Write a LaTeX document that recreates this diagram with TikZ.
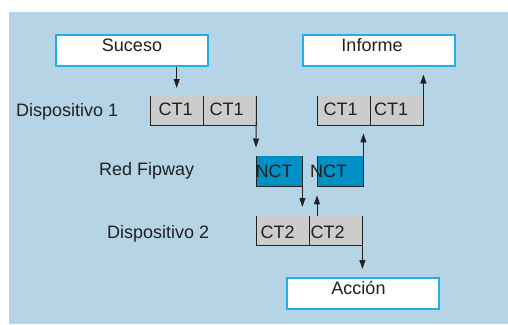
\documentclass[tikz,border=0pt]{standalone}
\usepackage{fontspec}
\setmainfont{Liberation Sans}
\usetikzlibrary{arrows.meta}
\definecolor{bgblue}{HTML}{B5D4E5}
\definecolor{cyanb}{HTML}{22AEE8}
\definecolor{ctgray}{HTML}{CCCCCC}
\definecolor{nctblue}{HTML}{0090C6}
\definecolor{txt}{HTML}{231F20}
\definecolor{lin}{HTML}{222222}
\tikzset{
  lbl/.style={font=\fontsize{18}{20}\selectfont, text=txt, inner sep=0pt, anchor=base west},
  endbox/.style={draw=cyanb, line width=1.5pt, fill=white, minimum width=152pt, minimum height=31pt, inner sep=0pt, anchor=north west},
  ctcell/.style={fill=ctgray, minimum width=53pt, minimum height=29pt, inner sep=0pt, anchor=north west},
  nctcell/.style={fill=nctblue, minimum width=46pt, minimum height=30pt, inner sep=0pt, anchor=north west},
  border/.style={draw=lin, line width=0.9pt},
  arr/.style={draw=lin, line width=0.9pt, -{Triangle[length=9pt,width=6pt]}}
}
\begin{document}
\begin{tikzpicture}[x=1pt,y=-1pt]
\useasboundingbox (0,0) rectangle (508,324);
\fill[bgblue] (9,12) rectangle (508,324);
% end boxes
\node[endbox] (suc) at (55,34) {};
\node[endbox] (inf) at (302,34) {};
\node[endbox] (acc) at (286,277) {};
\node[lbl, anchor=base] (tsuc) at (132,51) {Suceso};
\node[lbl, anchor=base] (tinf) at (372,51) {Informe};
\node[lbl, anchor=base] (tacc) at (358.5,294.5) {Acción};
% side labels
\node[lbl] (d1) at (16,116.5) {Dispositivo 1};
\node[lbl] (rf) at (99,175) {Red Fipway};
\node[lbl] (d2) at (107,238.5) {Dispositivo 2};
% CT1 cells (device 1, left)
\node[ctcell] (ct1a) at (150,96) {};
\node[ctcell] (ct1b) at (203,96) {};
% CT1 cells (device 1, right)
\node[ctcell] (ct1c) at (317,96) {};
\node[ctcell] (ct1d) at (370,96) {};
% NCT cells
\node[nctcell] (nct1) at (256,156) {};
\node[nctcell] (nct2) at (317,156) {};
% CT2 cells
\node[ctcell] (ct2a) at (256,216) {};
\node[ctcell] (ct2b) at (309,216) {};
% cell borders (open at top)
\draw[border] (ct1a.north west) -- (ct1a.south west) -- (ct1b.south east) -- (ct1b.north east);
\draw[border] (ct1a.north east) -- (ct1a.south east);
\draw[border] (ct1c.north west) -- (ct1c.south west) -- (ct1d.south east) -- (ct1d.north east);
\draw[border] (ct1c.north east) -- (ct1c.south east);
\draw[border] (nct1.north west) -- (nct1.south west) -- (nct1.south east) -- (nct1.north east);
\draw[border] (nct2.north west) -- (nct2.south west) -- (nct2.south east) -- (nct2.north east);
\draw[border] (ct2a.north west) -- (ct2a.south west) -- (ct2b.south east) -- (ct2b.north east);
\draw[border] (ct2a.north east) -- (ct2a.south east);
% cell texts
\node[lbl] (tct1a) at (158.5,115) {CT1};
\node[lbl] (tct1b) at (209.5,115) {CT1};
\node[lbl] (tct1c) at (323.5,115) {CT1};
\node[lbl] (tct1d) at (374,115) {CT1};
\node[lbl] (tnct1) at (255.5,177) {NCT};
\node[lbl] (tnct2) at (310,177) {NCT};
\node[lbl] (tct2a) at (260.5,238) {CT2};
\node[lbl] (tct2b) at (310.5,238) {CT2};
% arrow end points
\coordinate (e1) at ([yshift=8pt]ct1a.north);
\coordinate (e2) at ([yshift=8.5pt]nct1.north west);
\coordinate (e3) at ([yshift=9pt]ct2a.north);
\coordinate (e4) at ([yshift=-9pt]nct2.south west);
\coordinate (e5) at ([yshift=-8pt]ct1c.south);
\coordinate (e6) at ([yshift=-8pt]inf.south);
\coordinate (e7) at ([yshift=8pt]acc.north);
% arrows
\draw[arr] (suc.south -| ct1a.north) -- (e1);
\draw[arr] (ct1b.north east) -- (e2);
\draw[arr] (nct1.north east) -- (nct1.south east |- e3);
\draw[arr] (nct2.south west |- ct2b.north) -- (e4);
\draw[arr] (nct2.south east) -- (nct2.north east |- e5);
\draw[arr] (ct1d.south east) -- (ct1d.north east |- e6);
\draw[arr] (ct2b.north east) -- (ct2b.south east |- e7);
\end{tikzpicture}
\end{document}
